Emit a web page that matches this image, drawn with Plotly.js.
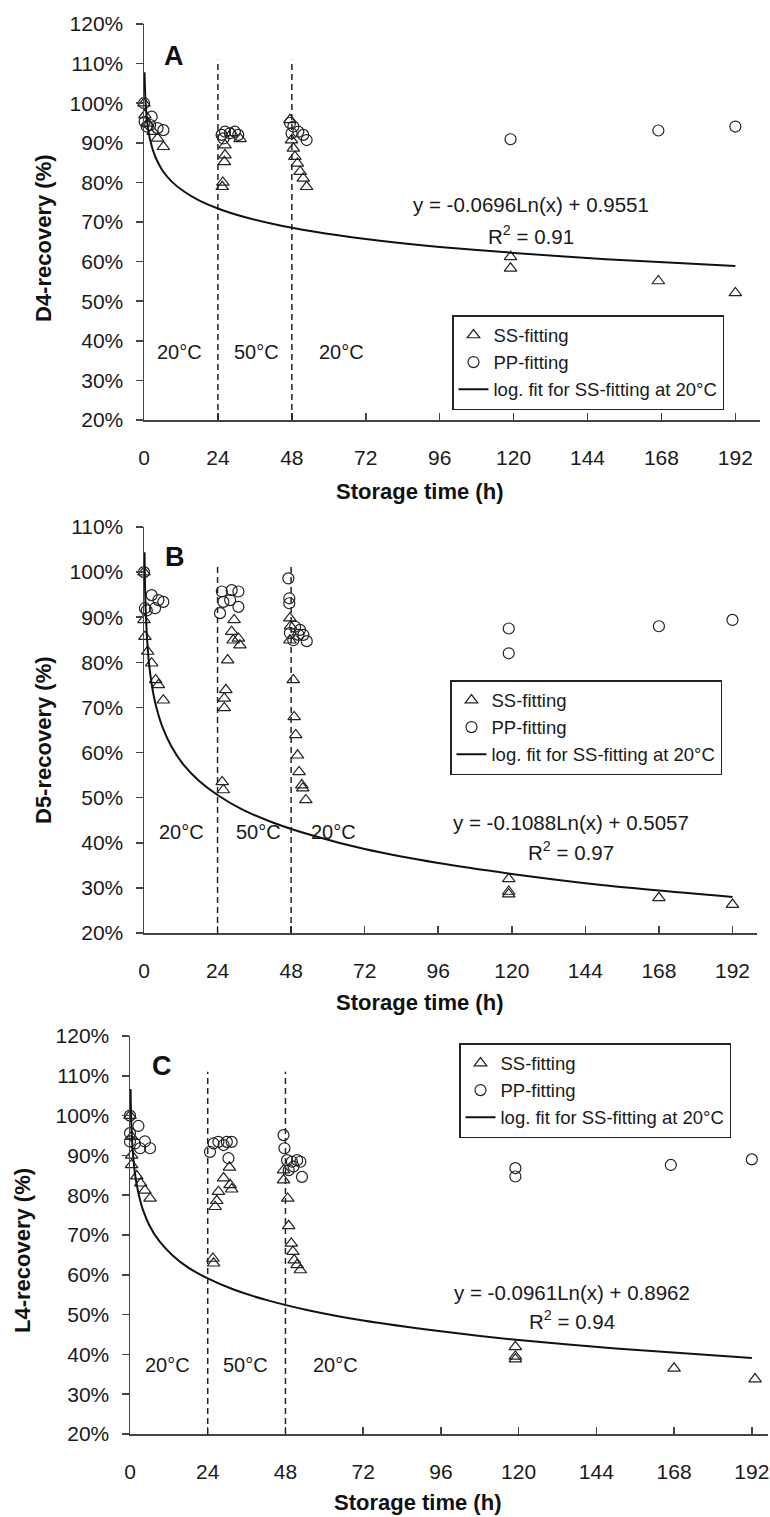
<!DOCTYPE html>
<html>
<head>
<meta charset="utf-8">
<script src="https://cdn.plot.ly/plotly-3.0.1.min.js"></script>
<style>html,body{margin:0;padding:0;background:#fff;}#chart{width:770px;height:1517px;}</style>
</head>
<body>
<div id="chart"></div>
<script>
// ---------- DATA (x = storage time in hours, y = recovery fraction) ----------
// Panel A : D4
var aSSx = [0, 0.3, 1.2, 3.0, 4.4, 6.3, 25.4, 25.6, 26.1, 26.3, 26.3, 28.5, 31.2, 47.4, 47.9, 48.5, 49.0, 49.8, 50.7, 51.7, 52.8, 119, 119, 167, 192];
var aSSy = [1.00, 0.97, 0.949, 0.928, 0.911, 0.89, 0.789, 0.80, 0.852, 0.869, 0.894, 0.925, 0.91, 0.958, 0.907, 0.886, 0.865, 0.848, 0.827, 0.81, 0.789, 0.612, 0.583, 0.551, 0.521];
var aPPx = [0, 0.2, 0.9, 2.0, 2.5, 4.4, 6.3, 25.2, 25.8, 26.3, 27.9, 29.5, 30.6, 47.4, 47.9, 48.5, 50.1, 51.7, 52.8, 119, 167, 192];
var aPPy = [1.00, 0.953, 0.941, 0.945, 0.966, 0.937, 0.932, 0.92, 0.911, 0.928, 0.924, 0.928, 0.92, 0.95, 0.924, 0.941, 0.928, 0.92, 0.907, 0.909, 0.931, 0.941];

// Panel B : D5
var bSSx = [0, 0, 0.3, 1.2, 2.5, 3.8, 4.7, 6.3, 25.5, 25.9, 26.2, 26.2, 26.7, 27.3, 28.6, 29.1, 29.4, 30.8, 31.3, 47.6, 47.8, 47.6, 48.7, 49.0, 49.5, 50.1, 50.6, 51.5, 51.8, 52.8, 119, 119, 119, 168, 192];
var bSSy = [1.00, 0.894, 0.857, 0.824, 0.798, 0.761, 0.75, 0.716, 0.535, 0.517, 0.699, 0.72, 0.739, 0.805, 0.868, 0.849, 0.894, 0.853, 0.838, 0.898, 0.88, 0.849, 0.761, 0.679, 0.639, 0.594, 0.557, 0.528, 0.521, 0.495, 0.32, 0.292, 0.286, 0.278, 0.263];
var bPPx = [0, 0.3, 0.9, 2.5, 3.6, 4.7, 6.3, 24.8, 25.4, 25.9, 28.1, 28.6, 30.8, 30.8, 47.1, 47.4, 47.4, 47.6, 48.7, 49.3, 50.4, 50.9, 52.0, 53.1, 119, 119, 168, 192];
var bPPy = [1.00, 0.92, 0.915, 0.949, 0.92, 0.938, 0.934, 0.909, 0.957, 0.934, 0.938, 0.96, 0.957, 0.923, 0.986, 0.942, 0.931, 0.865, 0.849, 0.879, 0.861, 0.872, 0.861, 0.847, 0.875, 0.82, 0.88, 0.894];

// Panel C : L4
var cSSx = [0, 0.5, 0.5, 0.5, 2.1, 3.3, 4.6, 6.2, 25.6, 25.8, 26.3, 26.8, 27.3, 28.9, 30.7, 30.9, 31.4, 47.4, 47.4, 48.7, 49.0, 49.8, 50.3, 50.7, 51.6, 52.6, 119, 119, 119, 168, 193];
var cSSy = [1.00, 0.947, 0.90, 0.876, 0.848, 0.83, 0.812, 0.792, 0.641, 0.629, 0.771, 0.786, 0.809, 0.843, 0.87, 0.826, 0.815, 0.863, 0.838, 0.792, 0.723, 0.679, 0.658, 0.637, 0.625, 0.612, 0.419, 0.395, 0.388, 0.365, 0.338];
var cPPx = [0, 0, 0, 1.5, 2.6, 3.1, 4.6, 6.2, 24.7, 25.8, 27.3, 28.9, 29.9, 30.4, 31.4, 47.4, 47.7, 48.5, 49.0, 50.0, 50.5, 51.6, 52.6, 53.1, 119, 119, 167, 192];
var cPPy = [1.00, 0.956, 0.935, 0.93, 0.974, 0.918, 0.935, 0.918, 0.909, 0.93, 0.934, 0.926, 0.934, 0.893, 0.934, 0.951, 0.918, 0.888, 0.863, 0.884, 0.872, 0.888, 0.884, 0.846, 0.868, 0.847, 0.876, 0.89];

// Logarithmic fit curves (values read along the drawn trendlines)
var fitX  = [0.17, 0.25, 0.4, 0.6, 1, 1.5, 2, 3, 4, 6, 9, 13, 18, 24, 32, 42, 55, 72, 96, 120, 150, 192];
var aFitY = [1.078, 1.052, 1.019, 0.991, 0.955, 0.927, 0.907, 0.879, 0.859, 0.830, 0.802, 0.777, 0.754, 0.734, 0.714, 0.695, 0.676, 0.657, 0.637, 0.622, 0.606, 0.589];
var bFitY = [1.044, 1.002, 0.951, 0.907, 0.852, 0.807, 0.776, 0.732, 0.701, 0.657, 0.613, 0.572, 0.537, 0.506, 0.474, 0.445, 0.416, 0.386, 0.355, 0.331, 0.306, 0.280];
var cFitY = [1.067, 1.029, 0.984, 0.945, 0.896, 0.857, 0.830, 0.791, 0.763, 0.724, 0.685, 0.650, 0.618, 0.591, 0.563, 0.537, 0.511, 0.485, 0.458, 0.436, 0.415, 0.391];

// Temperature phase boundaries (h) and labels
var phaseBounds = [24, 48];
var phaseLabels = ['20°C', '50°C', '20°C'];
var panelLetters = ['A', 'B', 'C'];
var yTitles = ['D4-recovery (%)', 'D5-recovery (%)', 'L4-recovery (%)'];
var equations = ['y = -0.0696Ln(x) + 0.9551', 'y = -0.1088Ln(x) + 0.5057', 'y = -0.0961Ln(x) + 0.8962'];
var r2Values = ['0.91', '0.97', '0.94'];
var legendNames = ['SS-fitting', 'PP-fitting', 'log. fit for SS-fitting at 20°C'];
var xTitle = 'Storage time (h)';

// ---------- LAYOUT HELPERS ----------
var W = 770, H = 1517;
function px(x) { return x / W; }
function py(y) { return 1 - y / H; }
var FONT = 'Arial, "Liberation Sans", sans-serif';
var INK = '#1a1a1a';
var AXC = '#444';

var panels = [
  {SSx: aSSx, SSy: aSSy, PPx: aPPx, PPy: aPPy, fitY: aFitY,
   xd: [144, 760], yd: [24, 420], yr: [0.2, 1.2], xr: [0, 200], dashTop: 1.11,
   legend: [452, 315], letter: [174, 56], ytitle: [43, 238], xtitle: [420, 491],
   eq: [531, 205, 235], temp: [[179, 352], [256, 352], [341, 352]]},
  {SSx: bSSx, SSy: bSSy, PPx: bPPx, PPy: bPPy, fitY: bFitY,
   xd: [144, 757], yd: [527, 933], yr: [0.2, 1.1], xr: [0, 200], dashTop: 1.02,
   legend: [450, 680], letter: [175, 557], ytitle: [43, 740], xtitle: [420, 1003],
   eq: [571, 822, 851], temp: [[181, 832], [258, 832], [333, 832]]},
  {SSx: cSSx, SSy: cSSy, PPx: cPPx, PPy: cPPy, fitY: cFitY,
   xd: [130, 768], yd: [1036, 1434], yr: [0.2, 1.2], xr: [0, 197], dashTop: 1.11,
   legend: [459, 1043], letter: [162, 1066], ytitle: [22, 1251], xtitle: [417, 1502],
   eq: [572, 1292, 1320], temp: [[167, 1365], [245, 1365], [335, 1365]]}
];

var traces = [];
var layout = {
  width: W, height: H,
  margin: {l: 0, r: 0, t: 0, b: 0},
  paper_bgcolor: '#fff', plot_bgcolor: 'rgba(0,0,0,0)',
  font: {family: FONT, color: INK, size: 19},
  showlegend: true,
  shapes: [], annotations: []
};

panels.forEach(function (p, i) {
  var sfx = i === 0 ? '' : String(i + 1);
  var xa = 'x' + sfx, ya = 'y' + sfx;
  var lg = 'legend' + sfx;

  traces.push({
    type: 'scatter', mode: 'markers', x: p.SSx, y: p.SSy, name: legendNames[0],
    xaxis: xa, yaxis: ya, legend: lg, cliponaxis: false,
    marker: {symbol: 'triangle-up-open', size: 11, color: '#222', line: {width: 1.2, color: '#222'}}
  });
  traces.push({
    type: 'scatter', mode: 'markers', x: p.PPx, y: p.PPy, name: legendNames[1],
    xaxis: xa, yaxis: ya, legend: lg, cliponaxis: false,
    marker: {symbol: 'circle-open', size: 11, color: '#222', line: {width: 1.2, color: '#222'}}
  });
  traces.push({
    type: 'scatter', mode: 'lines', x: fitX, y: p.fitY, name: legendNames[2],
    xaxis: xa, yaxis: ya, legend: lg, cliponaxis: false,
    line: {color: '#111', width: 2, shape: 'spline', smoothing: 0.6}
  });

  layout['xaxis' + sfx] = {
    domain: [px(p.xd[0]), px(p.xd[1])], range: p.xr, anchor: ya,
    tick0: 0, dtick: 24, ticks: 'inside', ticklen: 7, tickwidth: 1.5, tickcolor: AXC,
    showline: true, linecolor: AXC, linewidth: 1.5, showgrid: false, zeroline: false,
    tickfont: {size: 21, color: INK}, ticklabelstandoff: 18, fixedrange: true
  };
  layout['yaxis' + sfx] = {
    domain: [py(p.yd[1]), py(p.yd[0])], range: p.yr, anchor: xa,
    dtick: 0.1, tickformat: '.0%', ticks: 'outside', ticklen: 7, tickwidth: 1.5, tickcolor: AXC,
    showline: true, linecolor: AXC, linewidth: 1.5, showgrid: false, zeroline: false,
    tickfont: {size: 21, color: INK}, ticklabelstandoff: 8, fixedrange: true
  };
  layout[lg] = {
    x: px(p.legend[0]), y: py(p.legend[1]), xanchor: 'left', yanchor: 'top',
    bgcolor: '#fff', bordercolor: '#222', borderwidth: 1.5,
    font: {size: 18.5, color: INK, family: FONT}, itemwidth: 30, tracegroupgap: 0
  };

  phaseBounds.forEach(function (b) {
    layout.shapes.push({
      type: 'line', xref: xa, yref: ya, x0: b, x1: b, y0: p.yr[0], y1: p.dashTop,
      line: {color: '#222', width: 1.5, dash: '6px,4px'}
    });
  });

  function ann(o) { layout.annotations.push(Object.assign({xref: 'paper', yref: 'paper', showarrow: false, xanchor: 'center', yanchor: 'middle'}, o)); }
  ann({x: px(p.letter[0]), y: py(p.letter[1]), text: '<b>' + panelLetters[i] + '</b>', font: {size: 27, color: '#111'}});
  ann({x: px(p.ytitle[0]), y: py(p.ytitle[1]), text: '<b>' + yTitles[i] + '</b>', textangle: -90, font: {size: 22, color: '#111'}});
  ann({x: px(p.xtitle[0]), y: py(p.xtitle[1]), text: '<b>' + xTitle + '</b>', font: {size: 22, color: '#111'}});
  ann({x: px(p.eq[0]), y: py(p.eq[1]), text: equations[i], font: {size: 20.5, color: INK}});
  ann({x: px(p.eq[0]), y: py(p.eq[2]), text: 'R<sup>2</sup> = ' + r2Values[i], font: {size: 20.5, color: INK}});
  p.temp.forEach(function (t, k) {
    ann({x: px(t[0]), y: py(t[1]), text: phaseLabels[k], font: {size: 20, color: INK}});
  });
});

Plotly.newPlot('chart', traces, layout, {displayModeBar: false, staticPlot: true});
</script>
</body>
</html>
